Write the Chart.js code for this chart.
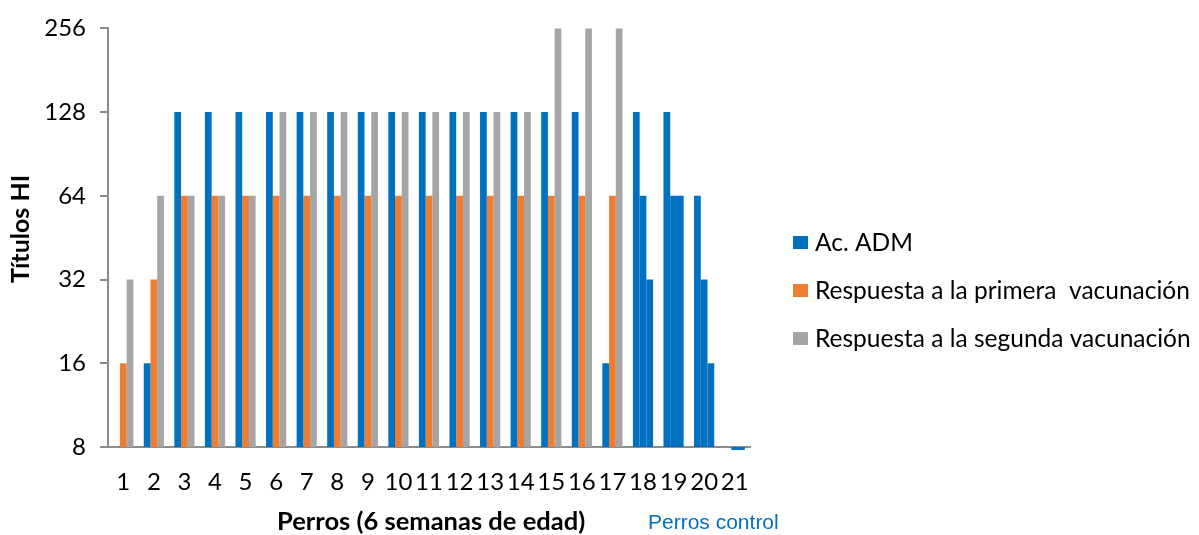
<!DOCTYPE html>
<html>
<head>
<meta charset="utf-8">
<script src="https://cdn.jsdelivr.net/npm/chart.js@4.4.1/dist/chart.umd.min.js"></script>
<style>
  html, body { margin: 0; padding: 0; background: #ffffff; }
  #wrap { width: 1199px; height: 535px; position: relative; }
</style>
</head>
<body>
<div id="wrap"><canvas id="c" width="1199" height="535"></canvas></div>
<script>
// Dogs 1-17 were vaccinated; 18-21 are the control group.
const categories = ['1','2','3','4','5','6','7','8','9','10','11','12','13','14','15','16','17','18','19','20','21'];
const controlDogs = ['18','19','20','21'];

// HI titres per dog
const acADM   = [null, 16, 128, 128, 128, 128, 128, 128, 128, 128, 128, 128, 128, 128, 128, 128, 16, 128, 128, 64, null];
const primera = [16, 32, 64, 64, 64, 64, 64, 64, 64, 64, 64, 64, 64, 64, 64, 64, 64, 64, 64, 32, 7.8];
const segunda = [32, 64, 64, 64, 64, 128, 128, 128, 128, 128, 128, 128, 128, 128, 256, 256, 256, 32, 64, 16, 7.8];

const yTicks = [8, 16, 32, 64, 128, 256];

const seriesNames = ['Ac. ADM', 'Respuesta a la primera  vacunación', 'Respuesta a la segunda vacunación'];
const BLUE = '#0070C0', ORANGE = '#ED7D31', GRAY = '#A5A5A5';
const FONT = 'Lato, "Open Sans", sans-serif';

// Control dogs are drawn entirely in blue.
function colorsFor(base) {
  return categories.map(c => controlDogs.includes(c) ? BLUE : base);
}

const textPlugin = {
  id: 'texts',
  afterDraw(chart) {
    const ctx = chart.ctx;
    ctx.save();
    // y axis title
    ctx.fillStyle = '#000';
    ctx.font = 'bold 25px ' + FONT;
    ctx.textAlign = 'center';
    ctx.textBaseline = 'middle';
    ctx.translate(21, 229);
    ctx.rotate(-Math.PI / 2);
    ctx.fillText('Títulos HI', 0, 0);
    ctx.setTransform(1, 0, 0, 1, 0, 0);

    // x axis titles
    ctx.font = 'bold 25.5px ' + FONT;
    ctx.textAlign = 'left';
    ctx.fillText('Perros (6 semanas de edad)', 277, 522);
    ctx.fillStyle = BLUE;
    ctx.font = '21px "Liberation Sans", Arial, sans-serif';
    ctx.fillText('Perros control', 648, 523);

    // legend
    const cols = [BLUE, ORANGE, GRAY];
    ctx.font = '24.5px ' + FONT;
    chart.data.datasets.forEach((ds, i) => {
      const y = 242 + i * 48;
      ctx.fillStyle = cols[i];
      ctx.fillRect(793, y - 6, 15, 13);
      ctx.fillStyle = '#000';
      ctx.fillText(ds.label, 815, y + 1);
    });
    ctx.restore();
  }
};

new Chart(document.getElementById('c'), {
  type: 'bar',
  data: {
    labels: categories,
    datasets: [
      { label: seriesNames[0], data: acADM, backgroundColor: colorsFor(BLUE), clip: false },
      { label: seriesNames[1], data: primera, backgroundColor: colorsFor(ORANGE), clip: false },
      { label: seriesNames[2], data: segunda, backgroundColor: colorsFor(GRAY), clip: false }
    ]
  },
  options: {
    responsive: false,
    animation: false,
    devicePixelRatio: 1,
    layout: { padding: { left: 0, right: 449, top: 28, bottom: 0 } },
    datasets: { bar: { barPercentage: 1.0, categoryPercentage: 0.66, borderWidth: 0 } },
    plugins: { legend: { display: false }, tooltip: { enabled: false } },
    scales: {
      x: {
        grid: { display: true, drawOnChartArea: false, drawTicks: false },
        border: { display: true, color: '#8c8c8c', width: 2 },
        ticks: { color: '#000', font: { family: FONT, size: 24 }, padding: 21, maxRotation: 0, autoSkip: false },
        afterFit(scale) { scale.height = 88; }
      },
      y: {
        type: 'logarithmic',
        min: 8,
        max: 256,
        grid: { display: true, drawOnChartArea: false, drawTicks: true, tickLength: 8, color: '#8c8c8c', lineWidth: 2 },
        border: { display: true, color: '#8c8c8c', width: 2 },
        ticks: { color: '#000', font: { family: FONT, size: 24 }, padding: 14, callback: v => String(v) },
        afterBuildTicks(scale) { scale.ticks = yTicks.map(v => ({ value: v })); },
        afterFit(scale) { scale.width = 108; }
      }
    }
  },
  plugins: [textPlugin]
});
</script>
</body>
</html>
